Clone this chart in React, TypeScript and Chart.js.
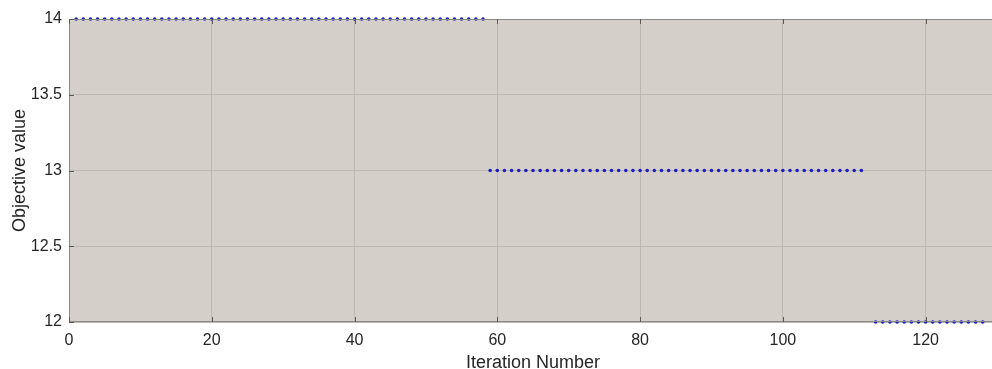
import React, { useEffect, useRef } from "react";
import { Chart, registerables } from "chart.js";

Chart.register(...registerables);

const iterations: number[] = [
  1, 2, 3, 4, 5, 6, 7, 8, 9, 10, 11, 12, 13, 14, 15, 16, 17, 18, 19, 20,
  21, 22, 23, 24, 25, 26, 27, 28, 29, 30, 31, 32, 33, 34, 35, 36, 37, 38, 39, 40,
  41, 42, 43, 44, 45, 46, 47, 48, 49, 50, 51, 52, 53, 54, 55, 56, 57, 58,
  59, 60, 61, 62, 63, 64, 65, 66, 67, 68, 69, 70, 71, 72, 73, 74, 75, 76, 77, 78,
  79, 80, 81, 82, 83, 84, 85, 86, 87, 88, 89, 90, 91, 92, 93, 94, 95, 96, 97, 98,
  99, 100, 101, 102, 103, 104, 105, 106, 107, 108, 109, 110, 111,
  113, 114, 115, 116, 117, 118, 119, 120, 121, 122, 123, 124, 125, 126, 127, 128,
];

const objectiveValues: number[] = [
  14, 14, 14, 14, 14, 14, 14, 14, 14, 14, 14, 14, 14, 14, 14, 14, 14, 14, 14, 14,
  14, 14, 14, 14, 14, 14, 14, 14, 14, 14, 14, 14, 14, 14, 14, 14, 14, 14, 14, 14,
  14, 14, 14, 14, 14, 14, 14, 14, 14, 14, 14, 14, 14, 14, 14, 14, 14, 14,
  13, 13, 13, 13, 13, 13, 13, 13, 13, 13, 13, 13, 13, 13, 13, 13, 13, 13, 13, 13,
  13, 13, 13, 13, 13, 13, 13, 13, 13, 13, 13, 13, 13, 13, 13, 13, 13, 13, 13, 13,
  13, 13, 13, 13, 13, 13, 13, 13, 13, 13, 13, 13, 13,
  12, 12, 12, 12, 12, 12, 12, 12, 12, 12, 12, 12, 12, 12, 12, 12,
];

const xTickStep = 20;
const yTickStep = 0.5;
const xMin = 0;
const xMax = 130;
const yMin = 12;
const yMax = 14;

const xTitle = "Iteration Number";
const yTitle = "Objective value";

const FONT = "'Liberation Sans', Arial, Helvetica, sans-serif";
const TEXT_COLOR = "#262626";
const PLOT_BG = "#d4d0c9";
const GRID_COLOR = "#bdb9b2";
const AXIS_COLOR = "#8a8a8a";

const matlabAxesPlugin = {
  id: "matlabAxes",
  beforeDraw(chart: any) {
    const { ctx, chartArea } = chart;
    ctx.save();
    ctx.fillStyle = PLOT_BG;
    ctx.fillRect(chartArea.left, chartArea.top, chartArea.right - chartArea.left, chartArea.bottom - chartArea.top);
    ctx.restore();
  },
  afterDatasetsDraw(chart: any) {
    const { ctx, chartArea, scales } = chart;
    const { left, right, top, bottom } = chartArea;
    ctx.save();
    ctx.strokeStyle = AXIS_COLOR;
    ctx.lineWidth = 1;
    ctx.beginPath();
    ctx.moveTo(left + 0.5, top + 0.5);
    ctx.lineTo(right - 0.5, top + 0.5);
    ctx.lineTo(right - 0.5, bottom - 0.5);
    ctx.lineTo(left + 0.5, bottom - 0.5);
    ctx.closePath();
    ctx.stroke();
    const tl = 5;
    ctx.strokeStyle = "#5a5a5a";
    ctx.beginPath();
    scales.x.ticks.forEach((t: any) => {
      const px = Math.round(scales.x.getPixelForValue(t.value)) + 0.5;
      ctx.moveTo(px, bottom);
      ctx.lineTo(px, bottom - tl);
      ctx.moveTo(px, top);
      ctx.lineTo(px, top + tl);
    });
    scales.y.ticks.forEach((t: any) => {
      const py = Math.round(scales.y.getPixelForValue(t.value)) + 0.5;
      ctx.moveTo(left, py);
      ctx.lineTo(left + tl, py);
      ctx.moveTo(right, py);
      ctx.lineTo(right - tl, py);
    });
    ctx.stroke();
    ctx.restore();
  },
};

export default function App() {
  const canvasRef = useRef<HTMLCanvasElement | null>(null);

  useEffect(() => {
    if (!canvasRef.current) return;
    const points = iterations.map((x, i) => ({ x, y: objectiveValues[i] }));
    const chart = new Chart(canvasRef.current, {
      type: "scatter",
      data: {
        datasets: [
          {
            label: "Objective",
            data: points,
            backgroundColor: "#1c1cc4",
            borderWidth: 0,
            pointRadius: 1.8,
            clip: false as any,
          },
        ],
      },
      options: {
        responsive: false,
        animation: false,
        layout: { padding: { top: 19, left: 0, right: 0, bottom: 0 } },
        plugins: { legend: { display: false }, tooltip: { enabled: false } },
        scales: {
          x: {
            type: "linear",
            min: xMin,
            max: xMax,
            afterFit: (s: any) => {
              s.height = 47;
            },
            ticks: {
              stepSize: xTickStep,
              includeBounds: false,
              padding: 9,
              color: TEXT_COLOR,
              font: { family: FONT, size: 16 },
              maxRotation: 0,
              callback: (v: any) => String(Number(v)),
            },
            grid: { color: GRID_COLOR, drawTicks: false, lineWidth: 1 },
            border: { display: false },
            title: {
              display: true,
              text: xTitle,
              color: TEXT_COLOR,
              font: { family: FONT, size: 18 },
              padding: { top: 0, bottom: -5 },
            },
          },
          y: {
            type: "linear",
            min: yMin,
            max: yMax,
            afterFit: (s: any) => {
              s.width = 69;
            },
            ticks: {
              stepSize: yTickStep,
              padding: 7,
              color: TEXT_COLOR,
              font: { family: FONT, size: 16 },
              callback: (v: any) => String(Number(v)),
            },
            grid: { color: GRID_COLOR, drawTicks: false, lineWidth: 1 },
            border: { display: false },
            title: {
              display: true,
              text: yTitle,
              color: TEXT_COLOR,
              font: { family: FONT, size: 18 },
              padding: { top: 9, bottom: 0 },
            },
          },
        },
      },
      plugins: [matlabAxesPlugin],
    });
    return () => chart.destroy();
  }, []);

  return (
    <div
      style={{
        position: "absolute",
        left: 0,
        top: 0,
        width: 992,
        height: 369,
        overflow: "hidden",
        background: "#ffffff",
      }}
    >
      <canvas ref={canvasRef} width={1001} height={369} style={{ display: "block" }} />
    </div>
  );
}
